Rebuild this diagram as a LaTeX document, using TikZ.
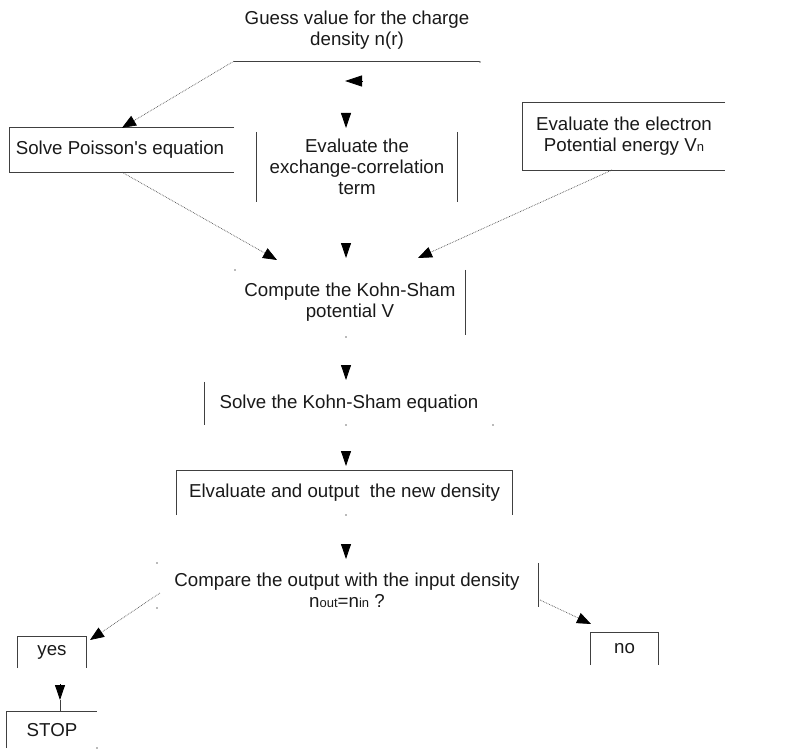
\documentclass[tikz,border=0pt]{standalone}
\usepackage{fontspec}
\setmainfont{Liberation Sans}
\usetikzlibrary{arrows.meta,calc}
\begin{document}
\begin{tikzpicture}[x=1pt,y=-1pt,
  every node/.style={font=\fontsize{18.7}{21}\selectfont, align=center, inner sep=0pt, text=black!90},
  edge/.style={draw=black!75, line width=0.8pt},
  dots/.style={draw=black!70, line width=0.7pt, densely dotted, -{Triangle[length=14pt,width=11pt,color=black]}},
  tipx/.style={draw=black, line width=0.8pt, -{Triangle[length=15pt,width=10pt]}},
  speck/.style={fill=black!55}]
\useasboundingbox (0,0) rectangle (801,749);
\newcommand{\smallsub}[1]{{\fontsize{13}{13}\selectfont #1}}

% nodes
\node[minimum width=246pt, minimum height=62pt] (guess) at (357,30) {Guess value for the charge\\density n(r)};
\node[minimum width=224pt, minimum height=44pt] (poisson) at (122,150) {};
\node (poissont) at (120,150) {Solve Poisson\textquotesingle s equation};
\node[minimum width=200pt, minimum height=70pt] (xc) at (357,167) {Evaluate the\\exchange-correlation\\term};
\node[minimum width=202pt, minimum height=67pt] (elec) at (624,136.5) {Evaluate the electron\\Potential energy V\smallsub{n}};
\node[minimum width=230pt, minimum height=65pt] (ks) at (350,302.5) {Compute the Kohn-Sham\\potential V};
\node[minimum width=288pt, minimum height=43pt] (solve) at (349,403.5) {Solve the Kohn-Sham equation};
\node[minimum width=335pt, minimum height=44pt] (elv) at (344.5,493) {Elvaluate and output\ \ the new density};
\node[minimum width=381pt, minimum height=44pt] (cmp) at (347.5,585) {};
\node (cmpt) at (347,590) {Compare the output with the input density\\n\smallsub{out}=n\smallsub{in} ?};
\node[minimum width=68pt, minimum height=31pt] (yes) at (52,652.5) {yes};
\node[minimum width=90pt, minimum height=36pt] (stop) at (52,730) {STOP};
\node[minimum width=67pt, minimum height=32pt] (no) at (624.5,649) {no};

% partial borders
\draw[edge] (guess.south west) -- (guess.south east);
\draw[edge] (poisson.north east) -- (poisson.north west) -- (poisson.south west) -- (poisson.south east);
\draw[edge] (xc.north west) -- (xc.south west);
\draw[edge] (xc.north east) -- (xc.south east);
\draw[edge] (elec.north east) -- (elec.north west) -- (elec.south west) -- (elec.south east);
\draw[edge] (ks.north east) -- (ks.south east);
\draw[edge] (solve.north west) -- (solve.south west);
\draw[edge] (elv.south west) -- (elv.north west) -- (elv.north east) -- (elv.south east);
\draw[edge] (cmp.north east) -- (cmp.south east);
\draw[edge] (yes.south west) -- (yes.north west) -- (yes.north east) -- (yes.south east);
\draw[edge] (stop.south west) -- (stop.north west) -- (stop.north east);
\draw[edge] (no.south west) -- (no.north west) -- (no.north east) -- (no.south east);

% connector end points
\coordinate (gl) at (362,81);
\coordinate (glt) at (345,81);
\coordinate (a1) at (346,113);
\coordinate (a1t) at (346,128);
\coordinate (a2) at (346,243);
\coordinate (a2t) at (346,258);
\coordinate (kl) at (277,260);
\coordinate (kr) at (418,258);
\coordinate (es) at (612,170);
\coordinate (a3) at (346,365);
\coordinate (a3t) at (346,380);
\coordinate (a4) at (346,451);
\coordinate (a4t) at (346,466);
\coordinate (a5) at (346,544);
\coordinate (a5t) at (346,559);
\coordinate (cl) at (160,593);
\coordinate (cr) at (540,600);
\coordinate (yt) at (90,640);
\coordinate (nt) at (591,624);
\coordinate (ys) at (60,684);
\coordinate (yst) at (60,700);

% connectors
\draw[tipx, -{Triangle[length=17pt,width=11pt]}] (gl) -- (glt);
\draw[dots] (guess.south west) -- (poisson.north);
\draw[tipx] (a1) -- (a1t);
\draw[dots] (poisson.south) -- (kl);
\draw[tipx] (a2) -- (a2t);
\draw[dots] (es) -- (kr);
\draw[tipx] (a3) -- (a3t);
\draw[tipx] (a4) -- (a4t);
\draw[tipx] (a5) -- (a5t);
\draw[dots] (cl) -- (yt);
\draw[dots] (cr) -- (nt);
\draw[tipx] (ys) -- (yst);
\draw[edge] (yst) -- (stop.north -| yst);

% small specks
\foreach \p in {(235,270),(346,337),(346,425),(493,425),(346,515),(157,563),(157,608),(97,748),(480,62)}
  \fill[speck] \p circle (0.9pt);
\end{tikzpicture}
\end{document}
